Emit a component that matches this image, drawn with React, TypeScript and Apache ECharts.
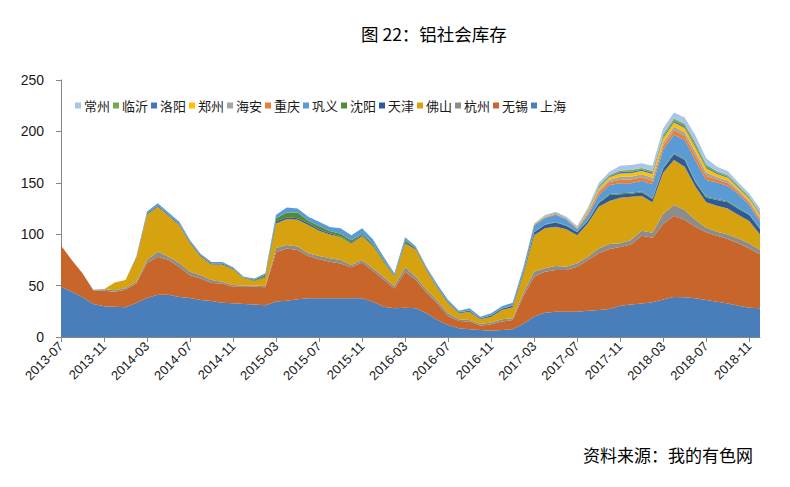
import React, { useEffect, useRef } from 'react';
import * as echarts from 'echarts';

const months = [
  '2013-07','2013-08','2013-09','2013-10','2013-11','2013-12',
  '2014-01','2014-02','2014-03','2014-04','2014-05','2014-06','2014-07','2014-08','2014-09','2014-10','2014-11','2014-12',
  '2015-01','2015-02','2015-03','2015-04','2015-05','2015-06','2015-07','2015-08','2015-09','2015-10','2015-11','2015-12',
  '2016-01','2016-02','2016-03','2016-04','2016-05','2016-06','2016-07','2016-08','2016-09','2016-10','2016-11','2016-12',
  '2017-01','2017-02','2017-03','2017-04','2017-05','2017-06','2017-07','2017-08','2017-09','2017-10','2017-11','2017-12',
  '2018-01','2018-02','2018-03','2018-04','2018-05','2018-06','2018-07','2018-08','2018-09','2018-10','2018-11','2018-12',
];

const shanghai = [
  49,44,39,32,30,29.5,29,33,38,41,
  41,39,38,36,35,33.4,32.8,32,31.5,31,
  34.5,35.3,36.7,37.6,37.6,37.6,37.6,37.6,37.6,34.3,
  29.5,27.9,28.5,28,23,16.5,11.7,8.4,7.5,6.8,
  6.2,6.8,7.5,13,20,23.7,24.6,24.6,24.6,25.6,
  26.2,27.2,30.4,31.7,32.7,33.7,36.5,38.9,38.6,37.6,
  36,34.3,32.7,30.4,28.5,27.9,
];
const wuxi = [
  40,31,23,13.5,15,14.5,17,19,34,37,
  34,29,22,21,17.5,18.6,16.2,16.6,17.5,17.5,
  48,50.7,47.9,41.2,38,35.7,34,30.2,34.9,30.2,
  26.5,19.4,35,27.4,20,16.2,8.7,7.2,7.5,4.2,
  6.1,8.2,9,27,38.7,39.8,40.6,40.6,43.8,49.4,
  55.2,58.4,57.1,58.4,65.8,62.9,73.5,79.1,75.2,69.7,
  65.8,64.2,62.6,60.7,57.7,52.5,
];
const hangzhou = [
  0,0,0,0.5,1.5,1.5,1.6,1.8,3,5,
  3,4,3.5,3,3,1.8,1.6,1.4,1,1.2,
  4,3.5,3.4,2.6,3.2,3.2,3.4,2.2,2.5,2.3,
  2.7,2.3,4.3,3.3,2.7,2.6,2.6,1.6,1.5,1.6,
  1.7,2.2,1.7,3,4.8,3.3,3.8,3.2,3.3,3,
  4.8,4.8,3.6,4.2,4.9,4.9,10,10.4,9.7,6.5,
  4.5,3.9,4.5,4.8,4.9,4.2,
];
const foshan = [
  0,0,0,0,0,7.5,7.8,23,44,44,
  40,37,28,18.2,15,16.7,15.2,7.2,4.5,8.3,
  24,25.3,26,27.6,24.6,23.1,22.3,21,23,21.7,
  14.6,9.1,23.2,26.3,19.3,12.1,9.8,5.8,8.1,4.6,
  5.8,9.1,10.7,18,35.5,38.9,38.3,36.3,27.2,32.6,
  40.6,41.9,44.4,42.2,33.7,29.5,40,43.8,42.2,32.4,
  24.7,25.3,25.3,22.8,21.7,15.2,
];
const tianjin = [
  0,0,0,0,0,0,0,0.5,1,1,
  1,1,1,1,1,1,0.8,0.5,0.5,0.5,
  2,1.6,1.5,1.6,1.3,1.3,0.7,1,1,1,
  0.8,0.5,1.5,1,0.8,0.8,1,0.8,1,0.8,
  1,1.2,1.5,2,3,3.5,4,3.5,3,2.5,
  3.2,5.8,3.3,2.9,3.6,3.2,4,5.5,6.5,4.2,
  4.5,5.5,5.9,5.8,5.9,5.2,
];
const shenyang = [
  0,0,0,0,0,0,0,0,0,0,
  0,0,0,0,0,0,0,0,1,2,
  3,4.6,5.5,2.4,3.3,2.1,2.5,2,1.5,1.5,
  1,0.8,1.5,0.8,0.5,0.4,0.3,0.3,0.3,0.3,
  0.3,0.3,0.3,0.5,0.5,0.5,0.5,0.5,0.5,0.5,
  0.8,1,1,1,1,1,1,1,1,1,
  1,1,1,1,0.8,0.8,
];
const gongyi = [
  0,0,0,0,0,0,0,0.7,2,2,
  2,2,1.5,1.5,1.5,1.5,1.2,1,1,1.5,
  3.5,5,4,4,4,4,5.2,5,5.2,4,
  2.9,2,3,1.2,1.5,2.4,1.9,1.5,2,1.5,
  1.9,2.2,2.7,4,6,6,7,5.5,2.6,4.5,
  7.1,8.7,9.7,9.1,10.4,13.3,17,18.4,18.4,20,
  16.2,16.2,15.2,13.3,8.9,6.4,
];
const chongqing = [
  0,0,0,0,0,0,0,0,0,0,
  0,0,0,0,0,0,0,0,0,0,
  0,0,0,0,0,0,0,0,0,0,
  0,0,0,0,0,0,0,0,0,0,
  0,0,0,0.2,0.6,0.8,0.8,0.7,0.8,2,
  2.8,3,3.5,3.6,3.4,3.6,4,4,4.1,4.6,
  4,2.9,2.7,2.2,2.1,2.4,
];
const haian = [
  0,0,0,0,0,0,0,0,0,0,
  0,0,0,0,0,0,0,0,0,0,
  0,0,0,0,0,0,0,0,0,0,
  0,0,0,0,0,0,0,0,0,0,
  0,0,0,0.1,0.4,0.5,0.5,0.5,0.5,1.3,
  2,2.2,2.8,2.9,2.7,2.9,3.3,3.4,3.5,3.9,
  3.4,2.4,2.3,1.8,1.8,2,
];
const zhengzhou = [
  0,0,0,0,0,0,0,0,0,0,
  0,0,0,0,0,0,0,0,0,0,
  0,0,0,0,0,0,0,0,0,0,
  0,0,0,0,0,0,0,0,0,0,
  0,0,0,0,0.3,0.4,0.4,0.4,0.4,1.2,
  2,2.3,3.2,3.4,3.2,3.5,4,4.1,4.2,4.7,
  4,2.9,2.7,2.2,2.1,2.5,
];
const luoyang = [
  0,0,0,0,0,0,0,0,0,0,
  0,0,0,0,0,0,0,0,0,0,
  0,0,0,0,0,0,0,0,0,0,
  0,0,0,0,0,0,0,0,0,0,
  0,0,0,0,0.2,0.3,0.3,0.3,0.3,0.7,
  1,1.1,1.4,1.4,1.3,1.4,1.6,1.7,1.7,1.9,
  1.6,1.2,1.1,0.9,0.9,1,
];
const linyi = [
  0,0,0,0,0,0,0,0,0,0,
  0,0,0,0,0,0,0,0,0,0,
  0,0,0,0,0,0,0,0,0,0,
  0,0,0,0,0,0,0,0,0,0,
  0,0,0,0,0.2,0.3,0.3,0.2,0.3,0.7,
  1.1,1.2,1.6,1.7,1.6,1.7,2.1,2.2,2.2,2.5,
  2.1,1.5,1.4,1.2,1.1,1.3,
];
const changzhou = [
  0,0,0,0,0,0,0,0,0,0,
  0,0,0,0,0,0,0,0,0,0,
  0,0,0,0,0,0,0,0,0,0,
  0,0,0,0,0,0,0,0,0,0,
  0,0,0,0.2,0.3,0.7,0.8,0.7,0.7,2,
  3,3.2,4.6,4.8,4.6,5,6,6,6.1,6.9,
  6,4.4,4.1,3.3,3.3,3.7,
];

const yTicks = [0, 50, 100, 150, 200, 250];
const legendOrder = ['常州','临沂','洛阳','郑州','海安','重庆','巩义','沈阳','天津','佛山','杭州','无锡','上海'];

const seriesDefs = [
  { name: '上海', data: shanghai, color: '#4A7EBB' },
  { name: '无锡', data: wuxi, color: '#C8652B' },
  { name: '杭州', data: hangzhou, color: '#8C8C8C' },
  { name: '佛山', data: foshan, color: '#D6A20F' },
  { name: '天津', data: tianjin, color: '#2E5A9C' },
  { name: '沈阳', data: shenyang, color: '#558A35' },
  { name: '巩义', data: gongyi, color: '#5B9BD5' },
  { name: '重庆', data: chongqing, color: '#ED7D31' },
  { name: '海安', data: haian, color: '#A5A5A5' },
  { name: '郑州', data: zhengzhou, color: '#FFC000' },
  { name: '洛阳', data: luoyang, color: '#4472C4' },
  { name: '临沂', data: linyi, color: '#70AD47' },
  { name: '常州', data: changzhou, color: '#A9C6E8' },
];

const CJK = '"Noto Sans CJK SC", "Noto Sans", sans-serif';
const NUM = '"Liberation Sans", "Noto Sans", sans-serif';

export default function App() {
  const ref = useRef<HTMLDivElement>(null);
  useEffect(() => {
    document.body.style.margin = '0';
    const chart = echarts.init(ref.current!, null, { renderer: 'svg' });
    chart.setOption({
      animation: false,
      backgroundColor: '#ffffff',
      grid: { left: 61, right: 30, top: 80, bottom: 150, outerBoundsMode: 'none' },
      legend: {
        data: legendOrder,
        left: 75,
        top: 99,
        padding: 0,
        icon: 'rect',
        itemWidth: 6,
        itemHeight: 6,
        itemGap: 3,
        textStyle: { fontSize: 13, color: '#1a1a1a', fontFamily: CJK, padding: [0, 0, 0, -2] },
      },
      xAxis: {
        type: 'category',
        boundaryGap: false,
        data: months,
        axisLine: { lineStyle: { color: '#868686', width: 1 } },
        axisTick: { interval: 3, length: 5, lineStyle: { color: '#868686' } },
        axisLabel: {
          interval: 3,
          rotate: 45,
          margin: 7,
          fontSize: 13,
          color: '#1a1a1a',
          fontFamily: NUM,
        },
        splitLine: { show: false },
      },
      yAxis: {
        type: 'value',
        min: yTicks[0],
        max: yTicks[yTicks.length - 1],
        interval: 50,
        axisLine: { show: true, lineStyle: { color: '#868686', width: 1 } },
        axisTick: { show: true, length: 5, lineStyle: { color: '#868686' } },
        axisLabel: { fontSize: 14, color: '#1a1a1a', fontFamily: NUM, margin: 17 },
        splitLine: { show: false },
      },
      series: seriesDefs.map((s) => ({
        name: s.name,
        type: 'line',
        stack: 'total',
        data: s.data,
        symbol: 'none',
        lineStyle: { width: 0 },
        areaStyle: { color: s.color, opacity: 1 },
        itemStyle: { color: s.color },
        emphasis: { disabled: true },
      })),
      graphic: [
        {
          type: 'text',
          left: 361,
          top: 25,
          style: { text: '图 22：铝社会库存', fontSize: 17.5, fill: '#000', fontFamily: CJK },
        },
        {
          type: 'text',
          left: 583,
          top: 446,
          style: { text: '资料来源：我的有色网', fontSize: 17, fill: '#000', fontFamily: CJK },
        },
      ],
    });
    return () => chart.dispose();
  }, []);
  return <div ref={ref} style={{ width: 790, height: 487 }} />;
}
